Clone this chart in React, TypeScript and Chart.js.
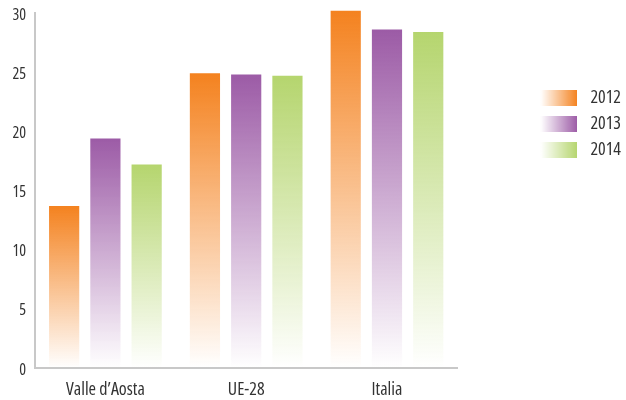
import { useEffect, useRef } from "react";
import { Chart, registerables } from "chart.js";

Chart.register(...registerables);

// Categories and series
const categories = ["Valle d\u2019Aosta", "UE-28", "Italia"];
const years = ["2012", "2013", "2014"];
const values2012 = [13.7, 24.9, 30.2];
const values2013 = [19.4, 24.8, 28.6];
const values2014 = [17.2, 24.7, 28.4];
const seriesValues = [values2012, values2013, values2014];
const seriesColors = ["#F4821F", "#9C5BA6", "#B5D56E"];

// Value axis
const yMin = 0;
const yMax = 30;
const yStep = 5;

const FONT_FAMILY = "'Open Sans', 'DejaVu Sans', sans-serif";
const FONT_STRETCH = "condensed";
const TEXT_COLOR = "#333333";
const AXIS_COLOR = "#c8c8c8";

function rgba(hex: string, a: number): string {
  const n = parseInt(hex.slice(1), 16);
  return `rgba(${(n >> 16) & 255}, ${(n >> 8) & 255}, ${n & 255}, ${a})`;
}

// Horizontal fade swatch used as the legend marker
function makeSwatch(hex: string): HTMLCanvasElement {
  const c = document.createElement("canvas");
  c.width = 37;
  c.height = 16;
  const g = c.getContext("2d")!;
  const grad = g.createLinearGradient(0, 0, c.width, 0);
  grad.addColorStop(0, rgba(hex, 0));
  grad.addColorStop(1, rgba(hex, 1));
  g.fillStyle = grad;
  g.fillRect(0, 0, c.width, c.height);
  return c;
}

// Vertical fade from the bar top down to the zero line
function barFill(hex: string) {
  return (ctx: any) => {
    const chart = ctx.chart;
    const y = chart.scales?.y;
    if (!chart.chartArea || !y || ctx.type !== "data") return rgba(hex, 1);
    const top = y.getPixelForValue(ctx.raw as number);
    const bottom = y.getPixelForValue(0);
    const grad = chart.ctx.createLinearGradient(0, top, 0, bottom);
    grad.addColorStop(0, rgba(hex, 1));
    grad.addColorStop(1, rgba(hex, 0));
    return grad;
  };
}

export default function App() {
  const canvasRef = useRef<HTMLCanvasElement | null>(null);

  useEffect(() => {
    if (!canvasRef.current) return;
    const swatches = seriesColors.map(makeSwatch);

    const chart = new Chart(canvasRef.current, {
      type: "bar",
      data: {
        labels: categories,
        datasets: years.map((year, i) => ({
          label: year,
          data: seriesValues[i],
          backgroundColor: barFill(seriesColors[i]),
          borderWidth: 0,
          categoryPercentage: 0.879,
          barPercentage: 0.732,
          clip: false as any,
        })),
      },
      options: {
        animation: false,
        responsive: false,
        devicePixelRatio: 1,
        layout: { padding: { top: 13, right: -5, bottom: 0, left: 0 } },
        scales: {
          x: {
            grid: { display: false, drawTicks: false },
            border: { display: true, color: AXIS_COLOR, width: 2 },
            ticks: {
              color: TEXT_COLOR,
              font: { family: FONT_FAMILY, size: 18, weight: FONT_STRETCH as any },
              padding: 11,
              maxRotation: 0,
            },
            afterFit: (s: any) => {
              s.height = 32;
            },
          },
          y: {
            min: yMin,
            max: yMax,
            grid: { display: false, drawTicks: false },
            border: { display: true, color: AXIS_COLOR, width: 2 },
            ticks: {
              stepSize: yStep,
              color: TEXT_COLOR,
              font: { family: FONT_FAMILY, size: 16, weight: FONT_STRETCH as any },
              padding: 9,
              labelOffset: 2,
            },
            afterFit: (s: any) => {
              s.width = 35;
              s.paddingTop = 0;
              s.paddingBottom = 0;
            },
          },
          // empty spacer between the plot and the legend
          spacer: {
            type: "linear",
            position: "right",
            display: true,
            grid: { display: false, drawTicks: false },
            border: { display: false },
            ticks: { display: false },
            afterFit: (s: any) => {
              s.width = 71;
            },
          },
        },
        plugins: {
          tooltip: { enabled: false },
          legend: {
            position: "right",
            align: "start",
            title: {
              display: true,
              text: "",
              font: { size: 10, lineHeight: 1 },
              padding: { top: 58, bottom: 0 },
            },
            labels: {
              usePointStyle: true,
              pointStyleWidth: 45,
              boxHeight: 16,
              padding: 8,
              color: TEXT_COLOR,
              font: { family: FONT_FAMILY, size: 18, weight: FONT_STRETCH as any },
              generateLabels: () =>
                years.map((year, i) => ({
                  text: year,
                  pointStyle: swatches[i],
                  datasetIndex: i,
                  hidden: false,
                  fillStyle: "transparent",
                  strokeStyle: "transparent",
                  lineWidth: 0,
                  fontColor: TEXT_COLOR,
                })),
            },
          },
        },
      } as any,
    });

    return () => chart.destroy();
  }, []);

  return (
    <div style={{ position: "fixed", left: 0, top: 0, width: 626, height: 400, background: "#fff" }}>
      <canvas ref={canvasRef} width={626} height={400} />
    </div>
  );
}
